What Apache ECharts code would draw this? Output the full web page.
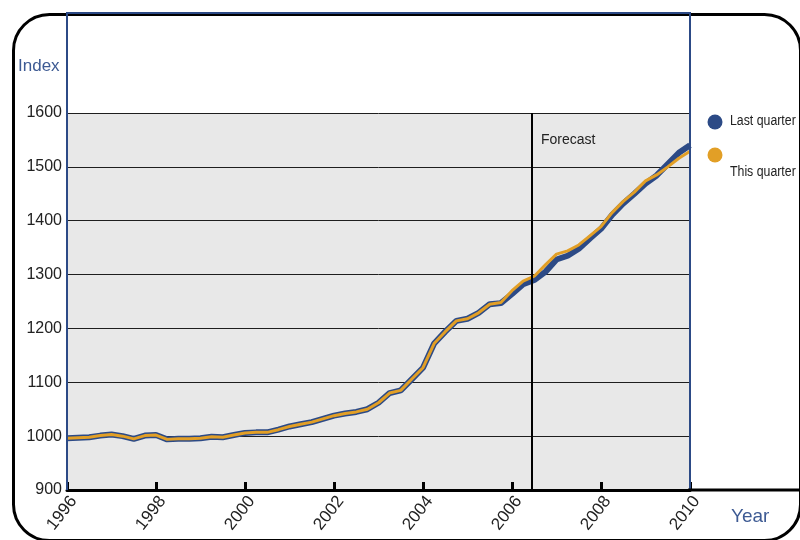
<!DOCTYPE html>
<html>
<head>
<meta charset="utf-8">
<script src="https://cdn.jsdelivr.net/npm/echarts@6/dist/echarts.min.js"></script>
<style>
  html, body { margin: 0; padding: 0; background: #fff; }
  #chart { width: 800px; height: 540px; }
</style>
</head>
<body>
<div id="chart"></div>
<script>
// ========== 数据 ==========
const quarters = [
    1996, 1996.25, 1996.5, 1996.75,
    1997, 1997.25, 1997.5, 1997.75,
    1998, 1998.25, 1998.5, 1998.75,
    1999, 1999.25, 1999.5, 1999.75,
    2000, 2000.25, 2000.5, 2000.75,
    2001, 2001.25, 2001.5, 2001.75,
    2002, 2002.25, 2002.5, 2002.75,
    2003, 2003.25, 2003.5, 2003.75,
    2004, 2004.25, 2004.5, 2004.75,
    2005, 2005.25, 2005.5, 2005.75,
    2006, 2006.25, 2006.5, 2006.75,
    2007, 2007.25, 2007.5, 2007.75,
    2008, 2008.25, 2008.5, 2008.75,
    2009, 2009.25, 2009.5, 2009.75,
    2010
];

const lastQuarter = [
    996, 997, 998, 1001,
    1003, 1000, 995, 1001,
    1002, 994, 995, 995,
    996, 999, 998, 1002,
    1006, 1007, 1007, 1012,
    1018, 1022, 1026, 1032,
    1038, 1042, 1045, 1050,
    1062, 1080, 1085, 1106,
    1127, 1172, 1194, 1214,
    1218, 1229, 1245, 1247,
    1264, 1282, 1290, 1305,
    1328, 1335, 1348, 1367,
    1385, 1411, 1432, 1450,
    1469, 1484, 1505, 1526,
    1540
];

const thisQuarter = [
    996, 997, 998, 1001,
    1003, 1000, 995, 1001,
    1002, 994, 995, 995,
    996, 999, 998, 1002,
    1006, 1007, 1007, 1012,
    1018, 1022, 1026, 1032,
    1038, 1042, 1045, 1050,
    1062, 1080, 1085, 1106,
    1127, 1172, 1194, 1214,
    1218, 1229, 1245, 1248,
    1270, 1288, 1297, 1318,
    1338, 1344, 1355, 1372,
    1389, 1415, 1436, 1453,
    1474, 1485, 1500, 1516,
    1529
];

const forecastStart = 2006.45;
const seriesNames = ['Last quarter', 'This quarter'];

// ========== 样式 ==========
const COLORS = {
    navy: '#2c4a86',
    orange: '#e29f26',
    label: '#3d5a93',
    grid: '#1e1e1e',
    plotBg: '#e8e8e8',
    text: '#222'
};
const FONT = "'Liberation Sans', Arial, sans-serif";

const chart = echarts.init(document.getElementById('chart'));

const option = {
    animation: false,
    backgroundColor: '#fff',
    grid: {
        left: 67, right: 110, top: 113, bottom: 50,
        show: true, backgroundColor: COLORS.plotBg, borderWidth: 0
    },
    xAxis: {
        type: 'value',
        min: 1996, max: 2010, interval: 2,
        axisLine: { show: true, lineStyle: { color: '#000', width: 3 } },
        axisTick: { show: true, inside: true, length: 8, lineStyle: { color: '#000', width: 3 } },
        axisLabel: {
            rotate: 52, color: COLORS.text, fontSize: 17, fontFamily: FONT, margin: 3,
            verticalAlign: 'top',
            formatter: v => String(v)
        },
        splitLine: { show: false }
    },
    yAxis: {
        type: 'value',
        min: 900, max: 1600, interval: 100,
        axisLine: { show: false },
        axisTick: { show: false },
        axisLabel: {
            color: COLORS.text, fontSize: 16, fontFamily: FONT, margin: 5,
            formatter: v => String(v)
        },
        splitLine: { show: true, lineStyle: { color: COLORS.grid, width: 1 } }
    },
    series: [
        {
            name: seriesNames[0],
            type: 'line',
            data: quarters.map((q, i) => [q, lastQuarter[i]]),
            showSymbol: false,
            lineStyle: { color: COLORS.navy, width: 6 },
            itemStyle: { color: COLORS.navy },
            z: 3
        },
        {
            name: seriesNames[1],
            type: 'line',
            data: quarters.map((q, i) => [q, thisQuarter[i]]),
            showSymbol: false,
            lineStyle: { color: COLORS.orange, width: 3 },
            itemStyle: { color: COLORS.orange },
            z: 4,
            markLine: {
                silent: true,
                symbol: 'none',
                label: { show: false },
                lineStyle: { color: '#000', width: 2, type: 'solid' },
                data: [{ xAxis: forecastStart }]
            }
        }
    ],
    graphic: [
        // 外框圆角
        {
            type: 'rect', left: 11, top: 12, z: 0,
            shape: { width: 787, height: 526, r: 36 },
            style: { fill: 'none', stroke: '#000', lineWidth: 3 }
        },
        // 蓝色框
        {
            type: 'polyline', z: 10,
            shape: { points: [[67, 490], [67, 13], [690, 13], [690, 490]] },
            style: { fill: 'none', stroke: COLORS.navy, lineWidth: 2 }
        },
        // x轴延长线
        {
            type: 'line', z: 10,
            shape: { x1: 688, y1: 490, x2: 800, y2: 490 },
            style: { stroke: '#000', lineWidth: 3 }
        },
        {
            type: 'text', left: 18, top: 58, z: 10,
            style: { text: 'Index', fill: COLORS.label, fontSize: 17, fontFamily: FONT }
        },
        {
            type: 'text', left: 731, top: 507, z: 10,
            style: { text: 'Year', fill: COLORS.label, fontSize: 19, fontFamily: FONT }
        },
        {
            type: 'text', left: 541, top: 133, z: 10,
            style: { text: 'Forecast', fill: COLORS.text, fontSize: 14, fontFamily: FONT }
        },
        // 图例
        {
            type: 'circle', z: 10,
            shape: { cx: 715, cy: 122, r: 7.5 },
            style: { fill: COLORS.navy }
        },
        {
            type: 'text', x: 730, y: 114, z: 10, scaleX: 0.88,
            style: { text: seriesNames[0], fill: COLORS.text, fontSize: 14, fontFamily: FONT }
        },
        {
            type: 'circle', z: 10,
            shape: { cx: 715, cy: 155, r: 7.5 },
            style: { fill: COLORS.orange }
        },
        {
            type: 'text', x: 730, y: 165, z: 10, scaleX: 0.88,
            style: { text: seriesNames[1], fill: COLORS.text, fontSize: 14, fontFamily: FONT }
        }
    ]
};

chart.setOption(option);
</script>
</body>
</html>
